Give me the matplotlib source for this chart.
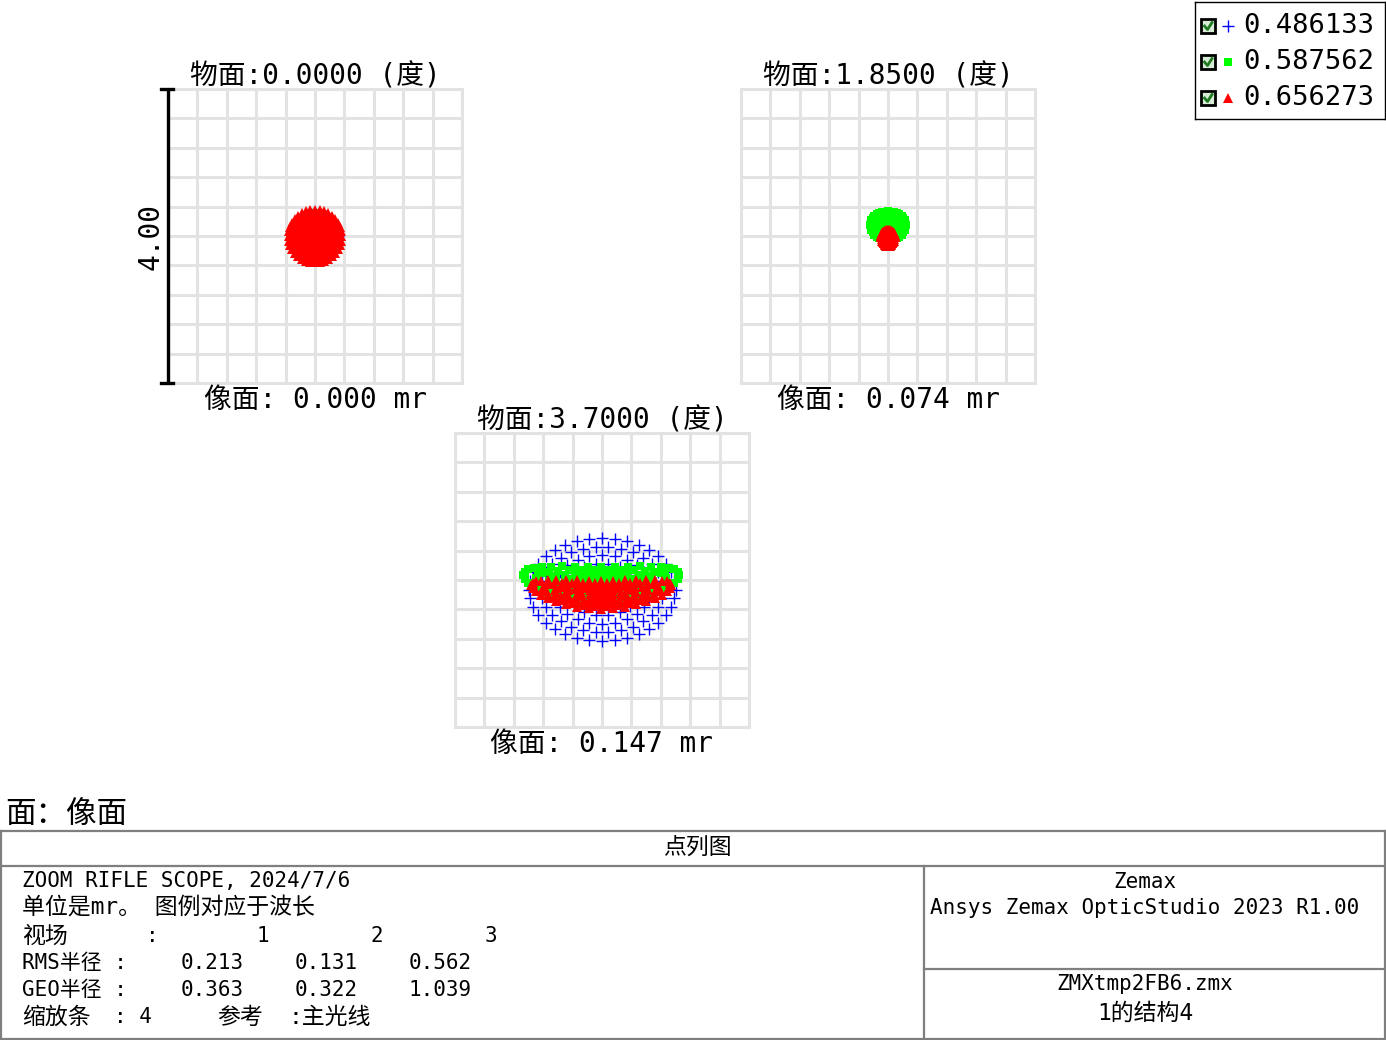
import numpy as np
import matplotlib
matplotlib.use("Agg")
import matplotlib.pyplot as plt
from matplotlib.lines import Line2D
from matplotlib.patches import Rectangle

# ---------------- data ----------------
field_angles = [0.0000, 1.8500, 3.7000]        # 物面 (度)
image_heights = [0.000, 0.074, 0.147]          # 像面 (mr)
wavelengths = [0.486133, 0.587562, 0.656273]
rms_radius = [0.213, 0.131, 0.562]
geo_radius = [0.363, 0.322, 1.039]
scale_bar = 4.00
field_numbers = [1, 2, 3]

# spot footprint per field (rows) and wavelength (cols), in mr
spot_cx = [[0.00, 0.00, 0.00], [0.00, 0.00, 0.00], [0.00, -0.01, -0.01]]
spot_cy = [[0.00, 0.00, 0.00], [0.12, 0.135, -0.03], [-0.13, -0.09, -0.20]]
spot_rx = [[0.31, 0.31, 0.36], [0.17, 0.24, 0.09], [1.00, 1.06, 0.95]]
spot_ry = [[0.31, 0.31, 0.36], [0.15, 0.20, 0.11], [0.70, 0.27, 0.19]]
spot_bend = [[0.00, 0.00, 0.00], [0.00, 0.02, 0.03], [0.00, 0.16, 0.13]]

header_title = "ZOOM RIFLE SCOPE, 2024/7/6"
header_units = "单位是mr。 图例对应于波长"
software = ["Zemax", "Ansys Zemax OpticStudio 2023 R1.00"]
file_info = ["ZMXtmp2FB6.zmx", "1的结构4"]

# ---------------- styling ----------------
W, H = 1386, 1040
MONO = ["DejaVu Sans Mono", "Noto Sans CJK SC"]
CJK = ["Noto Sans CJK SC", "DejaVu Sans"]
GRID = "#e3e3e3"
wl_style = [
    dict(marker="+", color="#0000ff", markersize=8, markeredgewidth=1.0),
    dict(marker="s", color="#00ff00", markersize=5.5, markeredgewidth=0),
    dict(marker="^", color="#ff0000", markersize=6.8, markeredgewidth=0),
]

plt.rcParams["font.family"] = MONO
fig = plt.figure(figsize=(W / 100, H / 100), dpi=100)
fig.patch.set_facecolor("white")


def fbox(x0, y0, w, h):
    return [x0 / W, 1 - (y0 + h) / H, w / W, h / H]


def ftext(x, y, s, **kw):
    fig.text(x / W, 1 - y / H, s, **kw)


def fline(xs, ys, **kw):
    fig.add_artist(Line2D([x / W for x in xs], [1 - y / H for y in ys],
                          transform=fig.transFigure, **kw))


# pupil sampling (hexapolar, 6 rings)
rings = 6
px_list, py_list = [0.0], [0.0]
for i in range(1, rings + 1):
    n = 6 * i
    for k in range(n):
        a = 2 * np.pi * k / n
        px_list.append(i / rings * np.cos(a))
        py_list.append(i / rings * np.sin(a))
px = np.array(px_list)
py = np.array(py_list)

# ---------------- spot diagrams ----------------
boxes = [(168, 89), (741, 89), (455, 433)]
size = 294
half = scale_bar / 2
for f, (x0, y0) in enumerate(boxes):
    ax = fig.add_axes(fbox(x0, y0, size, size))
    ax.set_xlim(-half, half)
    ax.set_ylim(-half, half)
    ticks = np.linspace(-half, half, 11)
    ax.set_xticks(ticks)
    ax.set_yticks(ticks)
    ax.tick_params(length=0, labelbottom=False, labelleft=False)
    ax.grid(True, color=GRID, lw=2.2)
    ax.set_axisbelow(True)
    for s in ax.spines.values():
        s.set_color(GRID)
        s.set_linewidth(2.2)
    for w in range(3):
        xs = spot_cx[f][w] + spot_rx[f][w] * px
        ys = spot_cy[f][w] + spot_ry[f][w] * py + spot_bend[f][w] * px ** 2
        ax.plot(xs, ys, linestyle="none", **wl_style[w])
    ax.text(0.5, 1 + 4 / size, f"物面:{field_angles[f]:.4f} (度)",
            transform=ax.transAxes, ha="center", va="baseline",
            fontsize=20, family=MONO)
    ax.text(0.5, -25 / size, f"像面: {image_heights[f]:.3f} mr",
            transform=ax.transAxes, ha="center", va="baseline",
            fontsize=20, family=MONO)
    if f == 0:
        k = 1 / size
        ax.plot([0, 0], [0, 1], color="black", lw=2.4, transform=ax.transAxes,
                clip_on=False, solid_capstyle="butt", zorder=10)
        for yy in (0, 1):
            ax.plot([-7 * k, 5 * k], [yy, yy], color="black", lw=2.4,
                    transform=ax.transAxes, clip_on=False, zorder=10)
        ax.text(-17 * k, 0.5, f"{scale_bar:.2f}", transform=ax.transAxes,
                rotation=90, ha="center", va="center", fontsize=20, family=MONO)

# ---------------- legend ----------------
lg = fig.add_axes(fbox(1195, 2, 190, 117))
lg.set_xlim(0, 190)
lg.set_ylim(117, 0)
lg.set_xticks([])
lg.set_yticks([])
for s in lg.spines.values():
    s.set_color("black")
    s.set_linewidth(1.0)
for i, wl in enumerate(wavelengths):
    yc = 24 + 36 * i
    lg.add_patch(Rectangle((6, yc - 7), 14, 14, facecolor="#d6ecd6",
                           edgecolor="black", lw=2.0))
    lg.plot([9.5, 12.5, 17], [yc, yc + 3.5, yc - 3.5], color="#1f7a1f", lw=2.0)
    lg.plot([33], [yc], linestyle="none", **wl_style[i])
    lg.text(48, yc, f"{wl:.6f}", ha="left", va="center", fontsize=19.5,
            family=MONO)

# ---------------- footer ----------------
ftext(5, 823, "面：像面", fontsize=22, family=CJK, ha="left", va="baseline")
lc = dict(color="#7f7f7f", lw=1.6)
fline([0, W], [831, 831], **lc)
fline([0, W], [866, 866], **lc)
fline([1, 1], [831, H], **lc)
fline([W - 1, W - 1], [831, H], **lc)
fline([0, W], [H - 1, H - 1], **lc)
fline([924, 924], [866, H], **lc)
fline([924, W], [969, 969], **lc)

ftext(697, 848, "点列图", fontsize=16.5, family=CJK, ha="center", va="center")

fs = 15
ftext(22, 881, header_title, fontsize=fs, family=MONO, va="center")
ftext(22, 908, header_units, fontsize=16.5, family=MONO, va="center")
ftext(22, 936, "视场", fontsize=16.5, family=MONO, va="center")
ftext(146, 936, ":", fontsize=fs, family=MONO, va="center")
col_x = [263, 377, 491]
for j, n in enumerate(field_numbers):
    ftext(col_x[j], 936, f"{n}", fontsize=fs, family=MONO, va="center",
          ha="center")
ftext(22, 963, "RMS半径 :", fontsize=fs, family=MONO, va="center")
ftext(22, 990, "GEO半径 :", fontsize=fs, family=MONO, va="center")
for j in range(3):
    ftext(col_x[j] - 51, 963, f"{rms_radius[j]:.3f}", fontsize=fs, family=MONO,
          va="center", ha="center")
    ftext(col_x[j] - 51, 990, f"{geo_radius[j]:.3f}", fontsize=fs, family=MONO,
          va="center", ha="center")
ftext(22, 1017, "缩放条", fontsize=16.5, family=MONO, va="center")
ftext(114, 1017, f": {scale_bar:.0f}", fontsize=fs, family=MONO, va="center")
ftext(217, 1017, "参考", fontsize=16.5, family=MONO, va="center")
ftext(288, 1017, ":主光线", fontsize=16.5, family=MONO, va="center")

ftext(1145, 882, software[0], fontsize=fs, family=MONO, ha="center", va="center")
ftext(1145, 908, software[1], fontsize=fs, family=MONO, ha="center", va="center")
ftext(1145, 984, file_info[0], fontsize=fs, family=MONO, ha="center", va="center")
ftext(1145, 1013, file_info[1], fontsize=16.5, family=MONO, ha="center", va="center")

fig.savefig("out.png", dpi=100, facecolor="white")
